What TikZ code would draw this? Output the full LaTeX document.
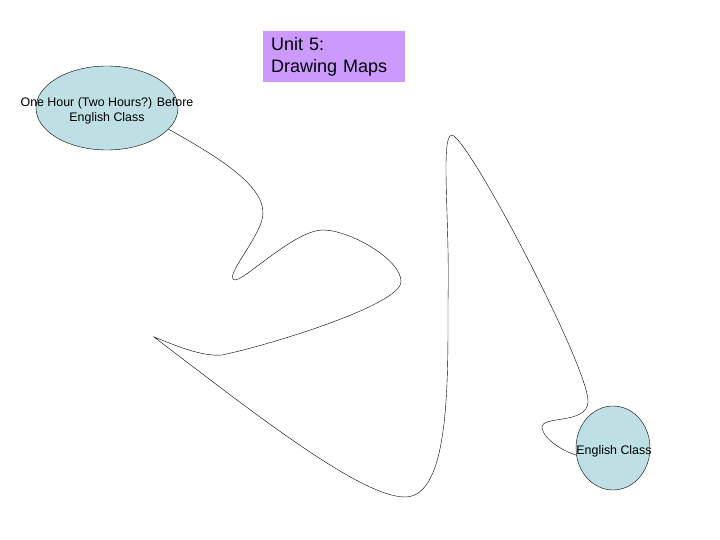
\documentclass[tikz,border=0pt]{standalone}
\usepackage{fontspec}
\setmainfont{Liberation Sans}
\usetikzlibrary{shapes.geometric}
\definecolor{placeblue}{RGB}{190,224,228}
\definecolor{unitpurple}{RGB}{204,153,255}
\tikzset{
	place/.style={draw,ellipse,fill=placeblue,inner sep=0pt},
	placetext/.style={align=center,font=\fontsize{12.4}{15}\selectfont,inner sep=0pt},
	unitbox/.style={fill=unitpurple,anchor=north west,minimum width=142pt,minimum height=51pt,
		text width=126pt,inner xsep=8pt,align=left,font=\fontsize{18}{22}\selectfont}
}
\begin{document}
\begin{tikzpicture}[x=1pt,y=-1pt]
				\useasboundingbox(0,0)rectangle(720,540);
				\node[unitbox](unit)at(263,31){Unit 5:\\Drawing Maps};
				\node[place,minimum width=142pt,minimum height=84pt](start)at(107,108){};
				\node[placetext]at(107,111){One Hour (Two Hours?) Before\\English Class};
				\node[place,minimum width=74pt,minimum height=84pt](goal)at(613,448){};
				\node[placetext]at(614,451){English Class};
				\draw(start.-19)..controls(220,158)and(263,185)..(263,213)
					..controls(263,235)and(222,278)..(235,280)
					..controls(245,280)and(295,230)..(323,230)
					..controls(350,230)and(402,260)..(401,282)
					..controls(400,305)and(270,345)..(222,355)
					..controls(200,357)and(170,343)..(154,337)
					..controls(250,410)and(360,497)..(405,497)
					..controls(450,497)and(448,380)..(448,300)
					..controls(450,220)and(440,135)..(452,135)
					..controls(470,140)and(590,370)..(588,402)
					..controls(587,425)and(540,415)..(542,428)
					..controls(544,440)and(565,452)..(goal.191);
			\end{tikzpicture}
\end{document}
